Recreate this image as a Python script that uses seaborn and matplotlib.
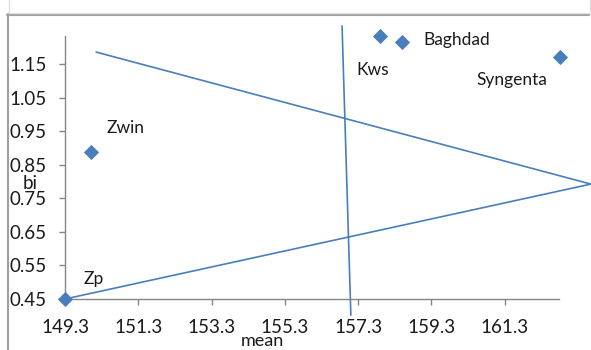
import matplotlib
matplotlib.use("Agg")
import matplotlib.pyplot as plt
from matplotlib.lines import Line2D
import seaborn as sns
import pandas as pd

# Genotype means and regression coefficients (bi)
genotypes = ["Zp", "Zwin", "Kws", "Baghdad", "Syngenta"]
mean_yield = [149.3, 150.0, 157.9, 158.5, 162.8]
bi = [0.45, 0.89, 1.235, 1.217, 1.172]

# Reference lines (end points)
upper_x = [150.15, 163.65]
upper_y = [1.187, 0.793]
lower_x = [149.3, 163.65]
lower_y = [0.45, 0.793]
mid_x = [156.86, 157.10]
mid_y = [1.265, 0.402]

x_ticks = [149.3, 151.3, 153.3, 155.3, 157.3, 159.3, 161.3]
y_ticks = [0.45, 0.55, 0.65, 0.75, 0.85, 0.95, 1.05, 1.15]

# label offsets in pixels (dx, dy) from each point
label_offsets = {
    "Zp": (19, 20),
    "Zwin": (16, 24),
    "Kws": (-24, -34),
    "Baghdad": (21, 2),
    "Syngenta": (-83, -23),
}

sns.set_style("white")
plt.rcParams["font.family"] = ["Lato", "DejaVu Sans"]

blue = "#4A7EBB"
gray = "#868686"
txt = "#1a1a1a"

W, H = 591, 350
fig = plt.figure(figsize=(W / 100, H / 100), dpi=100)
ax = fig.add_axes([65 / W, 51 / H, (559 - 65) / W, (299 - 36) / H])

df = pd.DataFrame({"genotype": genotypes, "mean": mean_yield, "bi": bi})

for xs, ys in [(upper_x, upper_y), (lower_x, lower_y), (mid_x, mid_y)]:
    ax.plot(xs, ys, color=blue, lw=1.2, clip_on=False, zorder=2)

sns.scatterplot(data=df, x="mean", y="bi", marker="D", s=60, color=blue,
                edgecolor=blue, linewidth=0, ax=ax, clip_on=False, zorder=3)

for g, x, y in zip(genotypes, mean_yield, bi):
    dx, dy = label_offsets[g]
    ax.annotate(g, (x, y), xytext=(dx * 0.72, dy * 0.72), textcoords="offset points",
                ha="left", va="center", fontsize=12.5, color=txt,
                annotation_clip=False)

ax.set_xlim(149.3, 162.78)
ax.set_ylim(0.45, 1.235)
ax.set_xticks(x_ticks)
ax.set_xticklabels([f"{v:.1f}" for v in x_ticks])
ax.set_yticks(y_ticks)
ax.set_yticklabels([f"{v:.2f}" for v in y_ticks])
ax.set_xlabel("")
ax.set_ylabel("")

for side in ["top", "right"]:
    ax.spines[side].set_visible(False)
for side in ["left", "bottom"]:
    ax.spines[side].set_color(gray)
    ax.spines[side].set_linewidth(1.0)

ax.tick_params(axis="x", direction="out", length=4.3, width=1, color=gray,
               pad=10, labelsize=13.5, labelcolor=txt, bottom=True)
ax.tick_params(axis="y", direction="out", length=4.3, width=1, color=gray,
               pad=9, labelsize=13.5, labelcolor=txt, left=True)

fig.text(30 / W, 1 - 183 / H, "bi", ha="center", va="center", fontsize=13.5, color=txt)
fig.text(262 / W, 1 - 341.5 / H, "mean", ha="center", va="center", fontsize=13, color=txt)

# chart area frame
fig.add_artist(Line2D([7 / W, 589 / W], [1 - 14.5 / H, 1 - 14.5 / H], color="#A0A0A0", lw=1.5))
fig.add_artist(Line2D([7.5 / W, 7.5 / W], [1 - 14 / H, 0], color="#A0A0A0", lw=1.5))
fig.add_artist(Line2D([8.5 / W, 589 / W], [1 - 13 / H, 1 - 13 / H], color="#E0E0E0", lw=1))
fig.add_artist(Line2D([8.5 / W, 8.5 / W], [1, 1 - 13 / H], color="#E0E0E0", lw=1))
fig.add_artist(Line2D([589.5 / W, 589.5 / W], [1, 1 - 14 / H], color="#E0E0E0", lw=1))

fig.savefig("out.png", dpi=100)
